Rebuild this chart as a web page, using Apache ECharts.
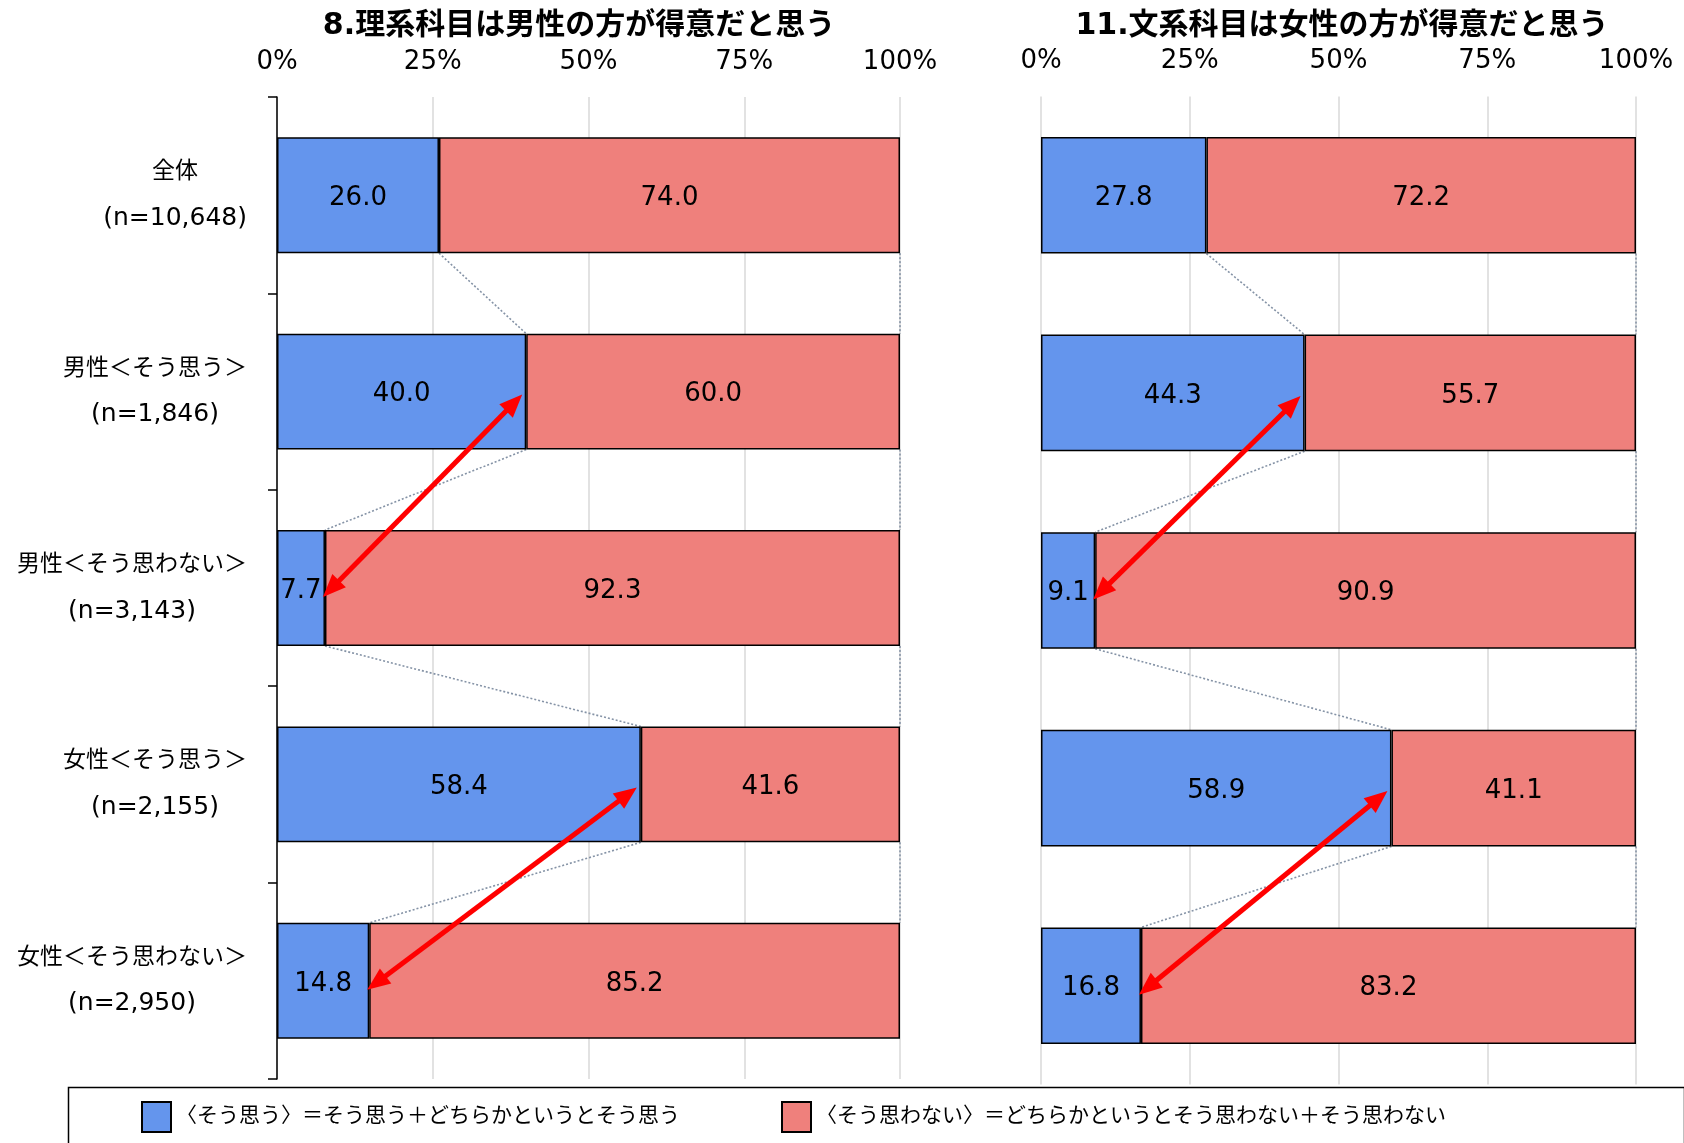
<!DOCTYPE html>
<html>
<head>
<meta charset="utf-8">
<script src="https://cdn.jsdelivr.net/npm/echarts@6/dist/echarts.min.js"></script>
<style>
html,body{margin:0;padding:0;background:#fff;}
#chart{width:1684px;height:1143px;}
</style>
</head>
<body>
<div id="chart"></div>
<script>
// ---------- data ----------
const titles = ['8.理系科目は男性の方が得意だと思う', '11.文系科目は女性の方が得意だと思う'];
const groups = ['全体', '男性＜そう思う＞', '男性＜そう思わない＞', '女性＜そう思う＞', '女性＜そう思わない＞'];
const sampleSizes = ['10,648', '1,846', '3,143', '2,155', '2,950'];
const seriesNames = ['〈そう思う〉＝そう思う＋どちらかというとそう思う', '〈そう思わない〉＝どちらかというとそう思わない＋そう思わない'];
const scienceAgree = [26.0, 40.0, 7.7, 58.4, 14.8];
const scienceDisagree = [74.0, 60.0, 92.3, 41.6, 85.2];
const humanitiesAgree = [27.8, 44.3, 9.1, 58.9, 16.8];
const humanitiesDisagree = [72.2, 55.7, 90.9, 41.1, 83.2];
const tickValues = [0, 25, 50, 75, 100];
const arrowStartRows = [1, 3];

// ---------- styles ----------
const FONT = "'DejaVu Sans', 'Noto Sans CJK JP', sans-serif";
const BLUE = '#6495ED';
const RED = '#EF807C';
const BAR_RATIO = 0.59;

function connectorData(agree, disagree) {
  const d = [];
  for (let i = 0; i < agree.length - 1; i++) {
    d.push([agree[i], i, agree[i + 1], i + 1]);
    d.push([agree[i] + disagree[i], i, agree[i + 1] + disagree[i + 1], i + 1]);
  }
  return d;
}
function arrowData(agree) {
  return arrowStartRows.map(r => [agree[r], r, agree[r + 1], r + 1]);
}

function renderConnector(params, api) {
  const band = api.size([0, 1])[1];
  const half = band * BAR_RATIO / 2;
  const a = api.coord([api.value(0), api.value(1)]);
  const b = api.coord([api.value(2), api.value(3)]);
  return {
    type: 'line',
    shape: { x1: a[0], y1: a[1] + half, x2: b[0], y2: b[1] - half },
    style: { stroke: '#8593A6', lineWidth: 1.6, lineDash: [2, 2], fill: null }
  };
}

function renderArrow(params, api) {
  const a = api.coord([api.value(0), api.value(1)]);
  const b = api.coord([api.value(2), api.value(3)]);
  a[0] -= 4; a[1] += 3;
  b[0] -= 2; b[1] += 9;
  const dx = b[0] - a[0], dy = b[1] - a[1];
  const len = Math.sqrt(dx * dx + dy * dy);
  const ux = dx / len, uy = dy / len;
  const nx = -uy, ny = ux;
  const L = 23, W = 9.5;
  return {
    type: 'group',
    children: [
      {
        type: 'line',
        shape: { x1: a[0] + ux * L * 0.8, y1: a[1] + uy * L * 0.8, x2: b[0] - ux * L * 0.8, y2: b[1] - uy * L * 0.8 },
        style: { stroke: '#FF0000', lineWidth: 5, fill: null }
      },
      {
        type: 'polygon',
        shape: { points: [[b[0], b[1]], [b[0] - ux * L + nx * W, b[1] - uy * L + ny * W], [b[0] - ux * L - nx * W, b[1] - uy * L - ny * W]] },
        style: { fill: '#FF0000' }
      },
      {
        type: 'polygon',
        shape: { points: [[a[0], a[1]], [a[0] + ux * L + nx * W, a[1] + uy * L + ny * W], [a[0] + ux * L - nx * W, a[1] + uy * L - ny * W]] },
        style: { fill: '#FF0000' }
      }
    ]
  };
}

function barSeries(name, data, color, idx) {
  return {
    name: name,
    type: 'bar',
    stack: 'total' + idx,
    xAxisIndex: idx,
    yAxisIndex: idx,
    barWidth: (BAR_RATIO * 100) + '%',
    data: data,
    itemStyle: { color: color, borderColor: '#000', borderWidth: 1.5 },
    label: {
      show: true,
      position: 'inside',
      offset: [0, 3],
      formatter: p => p.value.toFixed(1),
      fontFamily: FONT,
      fontSize: 26,
      color: '#000'
    },
    emphasis: { disabled: true },
    z: 3
  };
}

function xAxisDef(idx) {
  return {
    type: 'value',
    gridIndex: idx,
    position: 'top',
    min: tickValues[0],
    max: tickValues[tickValues.length - 1],
    interval: tickValues[1] - tickValues[0],
    axisLine: { show: false },
    axisTick: { show: false },
    axisLabel: { formatter: '{value}%', fontFamily: FONT, fontSize: 26, color: '#000', margin: 22 },
    splitLine: { show: true, lineStyle: { color: '#D9D9D9', width: 1.5 } }
  };
}

const chart = echarts.init(document.getElementById('chart'));
chart.setOption({
  animation: false,
  backgroundColor: '#fff',
  title: [
    { text: titles[0], left: 579, top: 11, padding: 0, textAlign: 'center',
      textStyle: { fontFamily: FONT, fontSize: 30, fontWeight: 'bold', color: '#000' } },
    { text: titles[1], left: 1342, top: 11, padding: 0, textAlign: 'center',
      textStyle: { fontFamily: FONT, fontSize: 30, fontWeight: 'bold', color: '#000' } }
  ],
  legend: [
    { data: [seriesNames[0]], left: 141, top: 1101, padding: 0, itemWidth: 29, itemHeight: 30, icon: 'rect',
      textStyle: { fontFamily: FONT, fontSize: 21, color: '#000' }, selectedMode: false },
    { data: [seriesNames[1]], left: 781, top: 1101, padding: 0, itemWidth: 29, itemHeight: 30, icon: 'rect',
      textStyle: { fontFamily: FONT, fontSize: 21, color: '#000' }, selectedMode: false }
  ],
  graphic: [
    { type: 'rect', left: 66, top: 1085, shape: { width: 1616, height: 90 },
      style: { fill: null, stroke: '#000', lineWidth: 1.5 }, z: 10 }
  ],
  grid: [
    { left: 277, top: 97, width: 623, height: 982 },
    { left: 1041, top: 96.5, width: 595, height: 988 }
  ],
  xAxis: [xAxisDef(0), xAxisDef(1)],
  yAxis: [
    {
      type: 'category', gridIndex: 0, inverse: true, data: groups,
      axisLine: { show: true, lineStyle: { color: '#000', width: 1.5 } },
      axisTick: { show: true, length: 9, lineStyle: { color: '#000', width: 1.5 } },
      axisLabel: {
        align: 'right', margin: 30,
        formatter: (v, i) => '{a|' + v + '}\n{b|(n=' + sampleSizes[i] + ')}',
        rich: {
          a: { align: 'center', fontFamily: FONT, fontSize: 23, lineHeight: 46, color: '#000' },
          b: { align: 'center', fontFamily: FONT, fontSize: 25, lineHeight: 46, color: '#000' }
        }
      },
      splitLine: { show: false }
    },
    {
      type: 'category', gridIndex: 1, inverse: true, data: groups,
      axisLine: { show: false }, axisTick: { show: false }, axisLabel: { show: false },
      splitLine: { show: false }
    }
  ],
  series: [
    barSeries(seriesNames[0], scienceAgree, BLUE, 0),
    barSeries(seriesNames[1], scienceDisagree, RED, 0),
    barSeries(seriesNames[0], humanitiesAgree, BLUE, 1),
    barSeries(seriesNames[1], humanitiesDisagree, RED, 1),
    { type: 'custom', xAxisIndex: 0, yAxisIndex: 0, renderItem: renderConnector,
      data: connectorData(scienceAgree, scienceDisagree), encode: { x: [0, 2], y: [1, 3] }, z: 2, silent: true },
    { type: 'custom', xAxisIndex: 1, yAxisIndex: 1, renderItem: renderConnector,
      data: connectorData(humanitiesAgree, humanitiesDisagree), encode: { x: [0, 2], y: [1, 3] }, z: 2, silent: true },
    { type: 'custom', xAxisIndex: 0, yAxisIndex: 0, renderItem: renderArrow,
      data: arrowData(scienceAgree), encode: { x: [0, 2], y: [1, 3] }, z: 5, silent: true },
    { type: 'custom', xAxisIndex: 1, yAxisIndex: 1, renderItem: renderArrow,
      data: arrowData(humanitiesAgree), encode: { x: [0, 2], y: [1, 3] }, z: 5, silent: true }
  ]
});
</script>
</body>
</html>
